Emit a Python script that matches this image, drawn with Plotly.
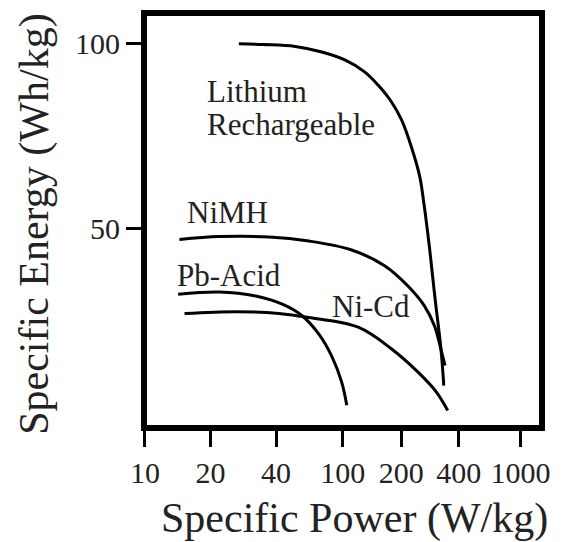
import numpy as np
import plotly.graph_objects as go

# ---- data ----
tick_values = [10, 20, 40, 100, 200, 400, 1000]
tick_labels = ["10", "20", "40", "100", "200", "400", "1000"]
tick_positions = [0, 1, 2, 3.02, 3.91, 4.79, 5.73]   # the printed axis is not strictly logarithmic

lithium_power = [27, 35, 52, 75, 103, 130, 152, 178, 201, 226, 250, 262, 282, 301, 323, 334]
lithium_energy = [99.8, 99.6, 99.1, 97.6, 95.4, 92.2, 88.7, 84.2, 79.3, 72.1, 64.1, 57.4,
                  44.4, 31.0, 17.5, 7.8]

nimh_power = [14.4, 21.9, 37.2, 62.7, 111, 165, 217, 265, 299, 323, 339]
nimh_energy = [47.1, 47.9, 47.8, 46.7, 44.3, 40.0, 34.6, 29.2, 23.8, 17.5, 13.2]

pb_power = [14.2, 21.9, 32.3, 43.6, 57.2, 71.8, 86.1, 98.6, 104.8]
pb_energy = [32.4, 33.0, 31.9, 29.7, 26.6, 21.7, 15.6, 8.6, 2.5]

nicd_power = [15.2, 26.2, 41.6, 62.7, 120, 178, 245, 305, 350]
nicd_energy = [27.2, 27.7, 27.2, 26.1, 23.5, 17.7, 11.4, 6.1, 1.1]

labels = ["Lithium", "Rechargeable", "NiMH", "Pb-Acid", "Ni-Cd"]


def to_axis(power):
    """Map W/kg onto the chart's (piecewise-logarithmic) horizontal scale."""
    return np.interp(np.log10(power), np.log10(tick_values), tick_positions)


FONT = "Liberation Serif, Times New Roman, serif"
TXT = "#222222"

fig = go.Figure()
for p, e in [(lithium_power, lithium_energy), (nimh_power, nimh_energy),
             (pb_power, pb_energy), (nicd_power, nicd_energy)]:
    fig.add_trace(go.Scatter(
        x=to_axis(p), y=e, mode="lines",
        line=dict(color="black", width=3, shape="spline", smoothing=1.0),
        showlegend=False, hoverinfo="skip"))

# curve labels
label_pos = [(18.8, 87.1), (18.8, 78.2), (15.3, 54.3), (13.7, 37.4), (84, 29.0)]
for txt, (lx, ly) in zip(labels, label_pos):
    fig.add_annotation(x=to_axis(lx), y=ly, text=txt, showarrow=False,
                       xanchor="left", yanchor="middle",
                       font=dict(family=FONT, size=31, color=TXT))

# axis titles
fig.add_annotation(xref="paper", yref="paper", x=0.529, y=-0.218,
                   text="Specific Power (W/kg)", showarrow=False,
                   xanchor="center", yanchor="middle",
                   font=dict(family=FONT, size=42, color=TXT))
fig.add_annotation(xref="paper", yref="paper", x=-0.276, y=0.49,
                   text="Specific Energy (Wh/kg)", showarrow=False, textangle=-90,
                   xanchor="center", yanchor="middle",
                   font=dict(family=FONT, size=42, color=TXT))

# thick frame
fig.add_shape(type="rect", xref="paper", yref="paper", x0=0, x1=1, y0=0, y1=1,
              line=dict(color="black", width=6), fillcolor="rgba(0,0,0,0)")

fig.update_xaxes(range=[-0.015, 6.06], tickmode="array", tickvals=tick_positions,
                 ticktext=tick_labels, ticks="outside", ticklen=18, tickwidth=3,
                 tickcolor="black", showgrid=False, zeroline=False, showline=False,
                 tickfont=dict(family=FONT, size=30, color=TXT))
fig.update_yaxes(range=[-3.63, 108.1], tickmode="array", tickvals=[50, 100],
                 ticks="outside", ticklen=17, tickwidth=3, tickcolor="black",
                 showgrid=False, zeroline=False, showline=False,
                 tickfont=dict(family=FONT, size=30, color=TXT))

fig.update_layout(width=562, height=542,
                  margin=dict(l=144, r=17, t=13, b=113.5, pad=0),
                  paper_bgcolor="white", plot_bgcolor="white")

fig.write_html("out.html")
